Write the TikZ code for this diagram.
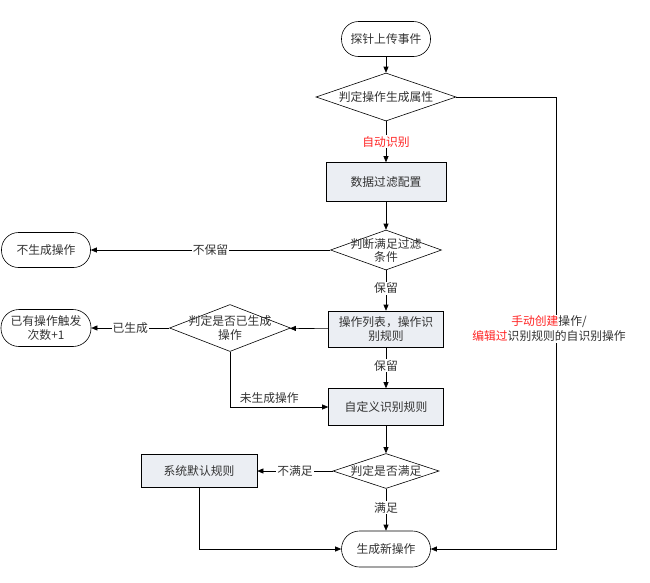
\documentclass[tikz,border=0pt]{standalone}
\usepackage{fontspec}
\newfontfamily\cjk{Noto Sans CJK SC}
\usetikzlibrary{shapes.geometric,arrows.meta}
\definecolor{boxfill}{HTML}{EBEEF3}
\definecolor{txt}{HTML}{333333}
\definecolor{redt}{HTML}{FF2424}
\tikzset{
  every node/.style={font=\cjk\fontsize{11.8}{13}\selectfont, text=txt},
  term/.style={draw, rounded corners=17pt, minimum width=89pt, minimum height=35pt, inner sep=1pt, align=center, line width=0.6pt},
  procbox/.style={draw, fill=boxfill, minimum width=116pt, minimum height=37pt, inner sep=1pt, align=center, line width=0.6pt},
  decide/.style={draw, diamond, inner sep=0pt, line width=0.6pt},
  lbl/.style={fill=white, inner sep=1pt},
  conn/.style={line width=0.6pt, -{Triangle[length=6pt,width=5pt]}},
  plain/.style={line width=0.6pt}
}
\begin{document}
\begin{tikzpicture}[x=1pt,y=-1pt]
\useasboundingbox (0,0) rectangle (650,582);
% nodes
\node[term] (start) at (386,39) {探针上传事件};
\node[decide, minimum width=140pt, minimum height=48pt, label={center:判定操作生成属性}] (d1) at (386,97) {};
\node[procbox, minimum width=120pt, minimum height=39pt] (filter) at (386,182) {数据过滤配置};
\node[decide, minimum width=111pt, minimum height=40pt, label={[align=center, font=\cjk\fontsize{11.8}{13}\selectfont]center:判断满足过滤\\条件}] (d2) at (386,250) {};
\node[term] (nogen) at (46,250) {不生成操作};
\node[procbox, minimum width=115pt, minimum height=36pt, font=\cjk\fontsize{11.8}{14.5}\selectfont] (oplist) at (386,329) {操作列表，操作识\\别规则};
\node[decide, minimum width=121pt, minimum height=47pt, label={[align=center, font=\cjk\fontsize{11.8}{13.5}\selectfont]center:判定是否已生成\\操作}] (d3) at (230,328) {};
\node[term, minimum width=90pt, minimum height=37pt, rounded corners=18pt, font=\cjk\fontsize{11.8}{14.5}\selectfont] (exist) at (46,328) {已有操作触发\\次数+1};
\node[procbox, minimum width=115pt, minimum height=37pt] (custom) at (386,407) {自定义识别规则};
\node[decide, minimum width=106pt, minimum height=35pt, label={center:判定是否满足}] (d4) at (386,471) {};
\node[procbox, minimum width=116pt, minimum height=33pt] (sysdef) at (199,471) {系统默认规则};
\node[term, minimum height=36pt, rounded corners=18pt] (newop) at (386,549) {生成新操作};
\coordinate (c1) at (556,97);
\coordinate (c2) at (556,549);
\coordinate (c3) at (230,407);
\coordinate (c4) at (199,549);
% connectors
\draw[conn] (start) -- (d1);
\draw[conn] (d1) -- node[lbl, pos=0.5, text=redt] {自动识别} (filter);
\draw[conn] (filter) -- (d2);
\draw[conn] (d2) -- node[lbl, pos=0.5] {不保留} (nogen);
\draw[conn] (d2) -- node[lbl, pos=0.45] {保留} (oplist);
\draw[conn] (oplist) -- (d3);
\draw[conn] (d3) -- node[lbl, pos=0.5] {已生成} (exist);
\draw[conn] (oplist) -- node[lbl, pos=0.45] {保留} (custom);
\draw[conn] (d3.south) -- (c3) -- node[above, inner sep=3pt, pos=0.4] {未生成操作} (custom.west);
\draw[conn] (custom) -- (d4);
\draw[conn] (d4) -- node[lbl, pos=0.5] {不满足} (sysdef);
\draw[conn] (d4) -- node[lbl, pos=0.45] {满足} (newop);
\draw[conn] (sysdef.south) -- (c4) -- (newop.west);
\draw[plain] (d1.east) -- (c1);
\draw[conn] (c1) -- node[lbl, pos=0.513, align=center, font=\cjk\fontsize{11.8}{15}\selectfont, xshift=-7pt] {\textcolor{redt}{手动创建}操作/\\\textcolor{redt}{编辑过}识别规则的自识别操作} (c2) -- (newop.east);
\end{tikzpicture}
\end{document}
